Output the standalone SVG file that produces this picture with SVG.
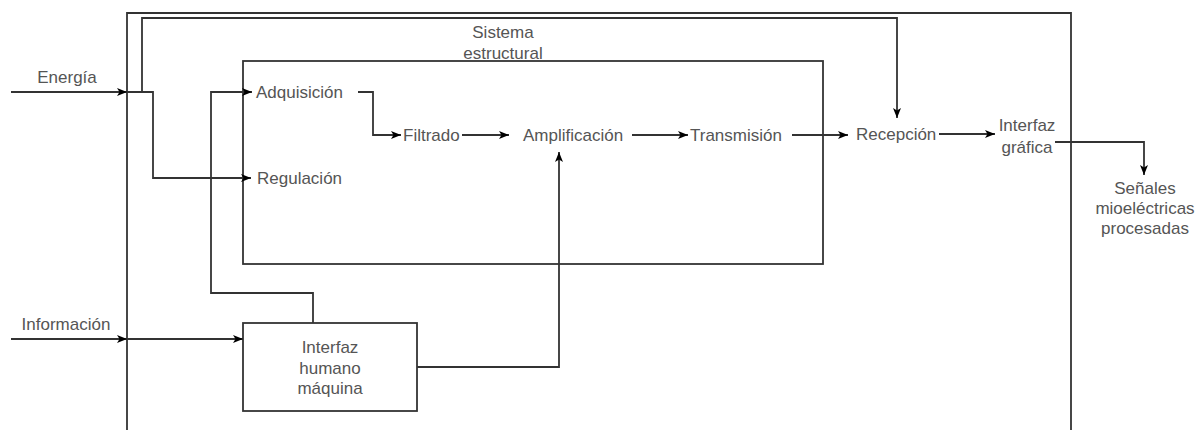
<svg xmlns="http://www.w3.org/2000/svg" width="1202" height="430" viewBox="0 0 1202 430">
<defs>
<style>
.ln{fill:none;stroke:#333;stroke-width:1.8;}
.arr{marker-end:url(#ah);}
.box{fill:none;stroke:#333;stroke-width:1.8;}
.t{font-family:"Liberation Sans",Arial,sans-serif;font-size:17px;fill:#555;}
.c{text-anchor:middle;}
</style>
<marker id="ah" viewBox="0 0 10 8" refX="10" refY="4" markerWidth="10" markerHeight="9" markerUnits="userSpaceOnUse" orient="auto">
<path d="M0,0 L10,4 L0,8 L2.5,4 z" fill="#000"/>
</marker>
</defs>
<rect width="1202" height="430" fill="#fff"/>

<g id="sistema-total">
<path class="box" d="M127,432 V13 H1071 V432"/>
</g>

<g id="sistema-estructural">
<rect class="box" x="243" y="61" width="580" height="203"/>
<text class="t c" x="503" y="38">Sistema</text>
<text class="t c" x="503" y="59">estructural</text>
</g>

<g id="energia"><text class="t c" x="67" y="83">Energía</text></g>
<g id="informacion"><text class="t c" x="66" y="330">Información</text></g>
<g id="adquisicion"><text class="t" x="256" y="98">Adquisición</text></g>
<g id="regulacion"><text class="t" x="257" y="184">Regulación</text></g>
<g id="filtrado"><text class="t" x="403" y="141">Filtrado</text></g>
<g id="amplificacion"><text class="t" x="523" y="141">Amplificación</text></g>
<g id="transmision"><text class="t" x="690" y="141">Transmisión</text></g>
<g id="recepcion"><text class="t" x="856" y="140">Recepción</text></g>
<g id="interfaz-grafica">
<text class="t c" x="1027" y="131">Interfaz</text>
<text class="t c" x="1027" y="153">gráfica</text>
</g>
<g id="senales">
<text class="t c" x="1145" y="194">Señales</text>
<text class="t c" x="1145" y="214">mioeléctricas</text>
<text class="t c" x="1145" y="234">procesadas</text>
</g>
<g id="hmi">
<rect class="box" x="243" y="323" width="174" height="88" fill="#fff"/>
<text class="t c" x="330" y="353">Interfaz</text>
<text class="t c" x="330" y="374">humano</text>
<text class="t c" x="330" y="394">máquina</text>
</g>

<g id="connectors">
<path class="ln arr" d="M11,92 H127"/>
<path class="ln arr" d="M127,92 H153 V178 H251"/>
<path class="ln arr" d="M142,92 V18 H897 V118"/>
<path class="ln arr" d="M313,323 V293 H211 V92 H252"/>
<path class="ln arr" d="M11,339 H127"/>
<path class="ln arr" d="M127,339 H243"/>
<path class="ln arr" d="M417,367 H559 V152"/>
<path class="ln arr" d="M358,92 H373 V135 H401"/>
<path class="ln arr" d="M462,135 H509"/>
<path class="ln arr" d="M632,135 H688"/>
<path class="ln arr" d="M792,135 H848"/>
<path class="ln arr" d="M939,134 H995"/>
<path class="ln arr" d="M1055,142 H1144 V175"/>
</g>
</svg>
